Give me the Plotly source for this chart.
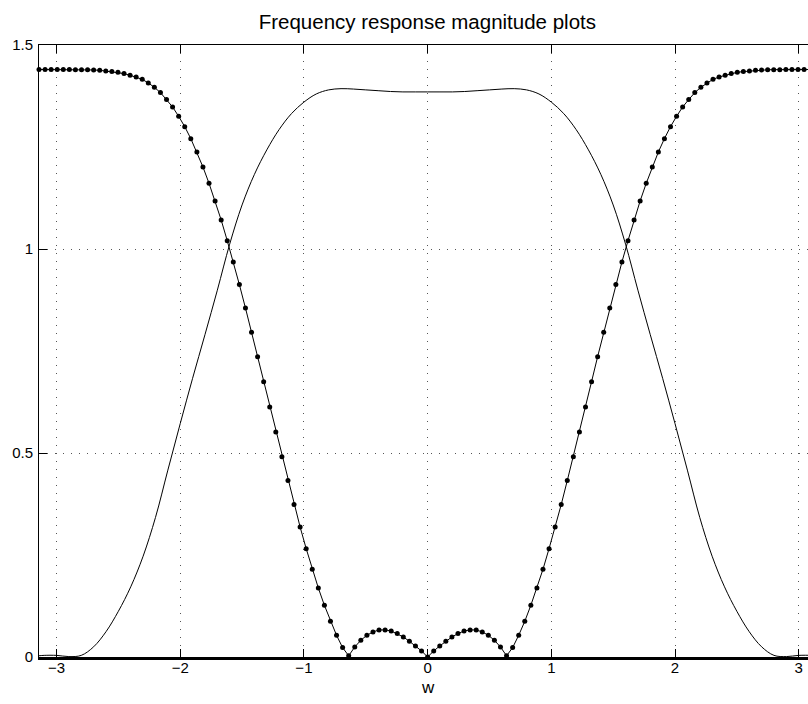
import numpy as np
import plotly.graph_objects as go

# ---- data -------------------------------------------------------------
# frequency grid of the dotted series (129 samples over [-pi, pi])
w_grid = np.linspace(-np.pi, np.pi, 129)

# dotted series (high-pass magnitude), read at each sample
highpass_mag = [
    1.440, 1.440, 1.440, 1.440, 1.440, 1.440, 1.4396, 1.4396, 1.4392, 1.4388,
    1.438, 1.4363, 1.4348, 1.4331, 1.4299, 1.4257, 1.4216, 1.4159, 1.4069, 1.3963,
    1.3833, 1.3662, 1.3481, 1.3252, 1.2999, 1.2705, 1.2378, 1.2011, 1.1610, 1.1177,
    1.0712, 1.0205, 0.9682, 0.9127, 0.8555, 0.7958, 0.7362, 0.6749, 0.6128, 0.5516,
    0.4911, 0.4323, 0.3735, 0.3187, 0.2656, 0.2150, 0.1692, 0.1267, 0.0875, 0.0532,
    0.0230, 0.003, 0.0246, 0.041, 0.0532, 0.0614, 0.0663, 0.0663, 0.0638, 0.0573,
    0.0491, 0.0385, 0.0270, 0.0148, 0.0,
    0.0148, 0.0270, 0.0385, 0.0491, 0.0573, 0.0638, 0.0663, 0.0663, 0.0614, 0.0532,
    0.041, 0.0246, 0.003, 0.0230, 0.0532, 0.0875, 0.1267, 0.1692, 0.2150, 0.2656,
    0.3187, 0.3735, 0.4323, 0.4911, 0.5516, 0.6128, 0.6749, 0.7362, 0.7958, 0.8555,
    0.9127, 0.9682, 1.0205, 1.0712, 1.1177, 1.1610, 1.2011, 1.2378, 1.2705, 1.2999,
    1.3252, 1.3481, 1.3662, 1.3833, 1.3963, 1.4069, 1.4159, 1.4216, 1.4257, 1.4299,
    1.4331, 1.4348, 1.4363, 1.438, 1.4388, 1.4392, 1.4396, 1.4396, 1.440, 1.440,
    1.440, 1.440, 1.440, 1.440,
]

# solid series (low-pass magnitude), read at selected frequencies
lowpass_w = [
    -3.1416, -3.1, -3.0, -2.9, -2.8, -2.7, -2.6, -2.5, -2.4, -2.3,
    -2.2, -2.1, -2.0, -1.9, -1.8, -1.7, -1.6, -1.5, -1.4, -1.3,
    -1.2, -1.1, -1.0, -0.9, -0.8, -0.7, -0.6, -0.5, -0.4, -0.3,
    -0.2, -0.1, 0.0,
    0.1, 0.2, 0.3, 0.4, 0.5, 0.6, 0.7, 0.8, 0.9, 1.0,
    1.1, 1.2, 1.3, 1.4, 1.5, 1.6, 1.7, 1.8, 1.9, 2.0,
    2.1, 2.2, 2.3, 2.4, 2.5, 2.6, 2.7, 2.8, 2.9, 3.0,
    3.1, 3.1416,
]
lowpass_mag = [
    0.003, 0.004, 0.004, 0.001, 0.004, 0.025, 0.062, 0.112, 0.172, 0.247,
    0.342, 0.458, 0.572, 0.683, 0.790, 0.899, 1.012, 1.108, 1.183, 1.243,
    1.293, 1.332, 1.360, 1.380, 1.390, 1.393, 1.392, 1.390, 1.388, 1.386,
    1.385, 1.385, 1.385,
    1.385, 1.385, 1.386, 1.388, 1.390, 1.392, 1.393, 1.390, 1.380, 1.360,
    1.332, 1.293, 1.243, 1.183, 1.108, 1.012, 0.899, 0.790, 0.683, 0.572,
    0.458, 0.342, 0.247, 0.172, 0.112, 0.062, 0.025, 0.004, 0.001, 0.004,
    0.004, 0.003,
]

x_ticks = [-3, -2, -1, 0, 1, 2, 3]
x_tick_labels = ["\u22123", "\u22122", "\u22121", "0", "1", "2", "3"]
y_ticks = [0, 0.5, 1, 1.5]
y_tick_labels = ["0", "0.5", "1", "1.5"]

title_text = "Frequency response magnitude plots"
x_label = "w"

# ---- figure -----------------------------------------------------------
FONT = "Liberation Sans, Arial, Helvetica, sans-serif"
x_range = [-np.pi, 3.075]

fig = go.Figure()

fig.add_trace(go.Scatter(
    x=lowpass_w, y=lowpass_mag, mode="lines",
    line=dict(color="black", width=1, shape="spline", smoothing=1.0),
    xaxis="x2", yaxis="y", showlegend=False, hoverinfo="skip",
))
fig.add_trace(go.Scatter(
    x=w_grid, y=highpass_mag, mode="lines+markers",
    line=dict(color="black", width=1),
    marker=dict(color="black", size=5),
    cliponaxis=False, showlegend=False, hoverinfo="skip",
))

grid_dash = "1px,7px"
fig.update_layout(
    width=808, height=704,
    margin=dict(l=39, r=0, t=45, b=47, pad=0),
    paper_bgcolor="white", plot_bgcolor="white",
    font=dict(family=FONT, size=15, color="black"),
    title=dict(text=title_text, x=0.505, xref="paper", xanchor="center",
               y=1 - 22 / 704, yref="container", yanchor="middle",
               font=dict(family=FONT, size=20.5, color="black")),
    xaxis=dict(range=x_range, tickvals=x_ticks, ticktext=x_tick_labels,
               showline=True, linecolor="black", linewidth=3,
               ticks="inside", ticklen=8, tickwidth=1, tickcolor="black",
               showgrid=True, gridcolor="#555555", gridwidth=1, griddash=grid_dash,
               zeroline=False, tickfont=dict(size=15), ticklabelstandoff=-5),
    xaxis2=dict(range=x_range, overlaying="x", side="top", anchor="y",
                tickvals=x_ticks, showticklabels=False,
                showline=True, linecolor="black", linewidth=1,
                ticks="inside", ticklen=8, tickwidth=1, tickcolor="black",
                showgrid=False, zeroline=False),
    yaxis=dict(range=[0, 1.5], tickvals=y_ticks, ticktext=y_tick_labels,
               showline=True, linecolor="black", linewidth=1,
               ticks="inside", ticklen=8, tickwidth=1, tickcolor="black",
               showgrid=True, gridcolor="#555555", gridwidth=1, griddash=grid_dash,
               zeroline=False, tickfont=dict(size=15), ticklabelstandoff=2),
)

fig.add_annotation(text=x_label, x=0, xref="x", y=-(687 - 656.7) / 612, yref="paper",
                   showarrow=False, xanchor="center", yanchor="middle",
                   font=dict(family=FONT, size=17, color="black"))

fig.write_html("out.html")
